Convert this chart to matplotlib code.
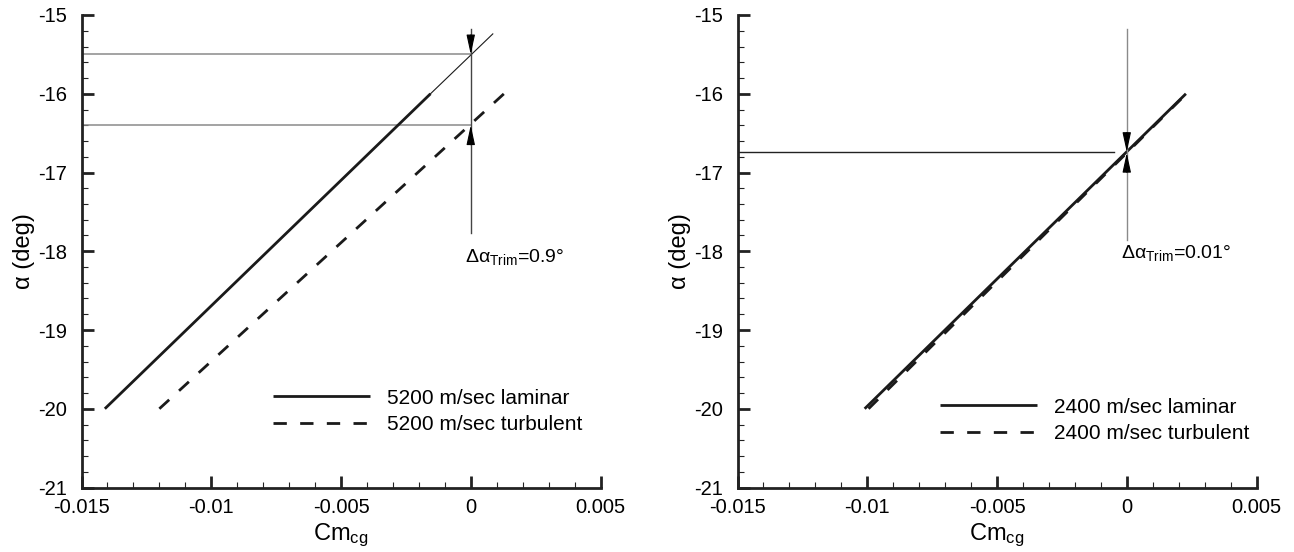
import matplotlib
matplotlib.use("Agg")
import matplotlib.pyplot as plt
from matplotlib.ticker import MultipleLocator, FixedLocator

plt.rcParams["font.family"] = ["Liberation Sans", "DejaVu Sans"]
plt.rcParams["mathtext.fontset"] = "custom"
plt.rcParams["mathtext.rm"] = "Liberation Sans"
plt.rcParams["mathtext.it"] = "Liberation Sans:italic"

# ---- data -------------------------------------------------------------
x_ticks = [-0.015, -0.01, -0.005, 0.0, 0.005]
x_ticklabels = ["-0.015", "-0.01", "-0.005", "0", "0.005"]
y_ticks = [-21, -20, -19, -18, -17, -16, -15]
y_ticklabels = ["-21", "-20", "-19", "-18", "-17", "-16", "-15"]

# 5200 m/sec
lam5200_cm = [-0.0141, -0.00155]
lam5200_alpha = [-20.0, -16.0]
lam5200_ext_cm = [-0.00155, 0.00085]
lam5200_ext_alpha = [-16.0, -15.24]
turb5200_cm = [-0.0120, 0.00128]
turb5200_alpha = [-20.0, -16.0]
trim5200_lam = -15.5
trim5200_turb = -16.4

# 2400 m/sec
lam2400_cm = [-0.0101, 0.00228]
lam2400_alpha = [-20.0, -16.0]
turb2400_cm = [-0.00995, 0.0023]
turb2400_alpha = [-20.0, -16.0]
trim2400_lam = -16.74
trim2400_turb = -16.75

FS_TICK = 14.5
FS_LEG = 15
FS_NOTE = 14
FS_LABEL = 17

fig = plt.figure(figsize=(12.94, 5.52), dpi=100)
W, H = 1294.0, 552.0
bottom = (H - 487.5) / H
height = 472.5 / H
ax1 = fig.add_axes([81.5 / W, bottom, 519 / W, height])
ax2 = fig.add_axes([737.5 / W, bottom, 519 / W, height])


def style_axes(ax):
    ax.set_xlim(-0.015, 0.005)
    ax.set_ylim(-21, -15)
    for s in ("top", "right"):
        ax.spines[s].set_visible(False)
    for s in ("left", "bottom"):
        ax.spines[s].set_linewidth(2.0)
        ax.spines[s].set_color("#222222")
    ax.xaxis.set_major_locator(FixedLocator(x_ticks))
    ax.set_xticklabels(x_ticklabels)
    ax.yaxis.set_major_locator(FixedLocator(y_ticks))
    ax.set_yticklabels(y_ticklabels)
    ax.xaxis.set_minor_locator(MultipleLocator(0.001))
    ax.yaxis.set_minor_locator(MultipleLocator(0.2))
    ax.tick_params(which="major", direction="in", length=8.5, width=2.0,
                   color="#222222", labelsize=FS_TICK)
    ax.tick_params(which="minor", direction="in", length=4.5, width=0.8,
                   color="#222222")
    ax.tick_params(axis="x", which="major", pad=7.4)
    ax.tick_params(axis="y", which="major", pad=10.5)
    ax.set_xlabel(r"$\mathregular{Cm_{cg}}$", fontsize=FS_LABEL, labelpad=3.5)
    ax.set_ylabel("\u03b1 (deg)", fontsize=FS_LABEL, labelpad=2)


def trim_arrows(ax, trim_top, trim_bot, vcolor, low, text_y,
                top=-15.18, text_x=-0.00024):
    ax.plot([0, 0], [top, low], color=vcolor, lw=1.0, zorder=3)
    head = dict(arrowstyle="-|>,head_length=0.6,head_width=0.13",
                color="black", lw=0.8, shrinkA=0, shrinkB=0, mutation_scale=20)
    ax.annotate("", xy=(0, trim_top), xytext=(0, 14),
                textcoords="offset points", arrowprops=head, zorder=4)
    ax.annotate("", xy=(0, trim_bot), xytext=(0, -14),
                textcoords="offset points", arrowprops=head, zorder=4)
    delta = round(trim_top - trim_bot, 2)
    txt = ("%.2f" % delta).rstrip("0")
    ax.text(text_x, text_y,
            r"$\mathregular{\Delta\alpha_{Trim}}$=" + txt + "\u00b0",
            fontsize=FS_NOTE, ha="left", va="center")


def add_legend(ax, handles, labels, top):
    ax.legend(handles, labels, loc="upper left", bbox_to_anchor=top,
              frameon=False, fontsize=FS_LEG, handlelength=4.66,
              handletextpad=0.8, labelspacing=0.35, borderpad=0,
              borderaxespad=0)


# ---- left panel: 5200 m/sec --------------------------------------------
style_axes(ax1)
ax1.plot([-0.015, 0], [trim5200_lam, trim5200_lam], color="#8a8a8a", lw=1.1)
ax1.plot([-0.015, 0], [trim5200_turb, trim5200_turb], color="#8a8a8a", lw=1.1)
l1, = ax1.plot(lam5200_cm, lam5200_alpha, color="#1a1a1a", lw=2.0,
               solid_capstyle="butt", label="5200 m/sec laminar")
ax1.plot(lam5200_ext_cm, lam5200_ext_alpha, color="#1a1a1a", lw=0.8)
t1, = ax1.plot(turb5200_cm, turb5200_alpha, color="#1a1a1a", lw=2.0,
               dashes=(4.8, 4.8), dash_capstyle="butt",
               label="5200 m/sec turbulent")
trim_arrows(ax1, trim5200_lam, trim5200_turb, "#444444", low=-17.77,
            text_y=-18.07)
add_legend(ax1, [l1, t1], [l1.get_label(), t1.get_label()], (0.369, 0.209))

# ---- right panel: 2400 m/sec -------------------------------------------
style_axes(ax2)
ax2.plot([-0.015, -0.0005], [trim2400_lam, trim2400_lam], color="#222222", lw=1.0)
t2, = ax2.plot(turb2400_cm, turb2400_alpha, color="#1a1a1a", lw=2.0,
               dashes=(4.8, 4.8), dash_capstyle="butt",
               label="2400 m/sec turbulent")
l2, = ax2.plot(lam2400_cm, lam2400_alpha, color="#1a1a1a", lw=2.0,
               solid_capstyle="butt", label="2400 m/sec laminar")
trim_arrows(ax2, trim2400_lam, trim2400_turb, "#8a8a8a", low=-17.86,
            text_y=-18.02)
add_legend(ax2, [l2, t2], [l2.get_label(), t2.get_label()], (0.39, 0.190))

fig.savefig("out.png", dpi=100)
